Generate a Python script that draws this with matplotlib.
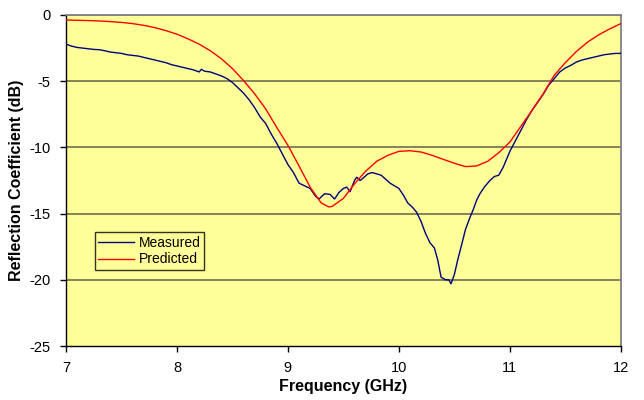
import matplotlib
matplotlib.use("Agg")
import matplotlib.pyplot as plt

plt.rcParams['font.family'] = ['Liberation Sans', 'DejaVu Sans']
plt.rcParams['axes.unicode_minus'] = False

# Measured reflection coefficient (dB)
meas_f = [7.00, 7.05, 7.10, 7.15, 7.20, 7.25, 7.30, 7.35, 7.40, 7.45, 7.50, 7.55, 7.60, 7.65,
          7.70, 7.75, 7.80, 7.85, 7.90, 7.95, 8.00, 8.05, 8.10, 8.15, 8.20, 8.22, 8.25, 8.30,
          8.35, 8.40, 8.45, 8.50, 8.55, 8.60, 8.65, 8.70, 8.75, 8.80, 8.85, 8.90, 8.95, 9.00,
          9.05, 9.10, 9.15, 9.20, 9.25, 9.28, 9.33, 9.38, 9.42, 9.46, 9.50, 9.53, 9.56,
          9.60, 9.62, 9.65, 9.68, 9.72, 9.76, 9.80, 9.84, 9.88, 9.92, 9.96, 10.00, 10.04, 10.08,
          10.12, 10.16, 10.20, 10.24, 10.28, 10.32, 10.35, 10.38, 10.42, 10.45, 10.47, 10.50,
          10.53, 10.57, 10.60, 10.64, 10.67, 10.70, 10.73, 10.77, 10.82, 10.86, 10.90, 10.94,
          10.97, 11.00, 11.05, 11.10, 11.15, 11.20, 11.25, 11.30, 11.35, 11.40, 11.45, 11.50,
          11.55, 11.60, 11.65, 11.70, 11.75, 11.80, 11.85, 11.90, 11.95, 12.00]
meas_db = [-2.2, -2.35, -2.45, -2.5, -2.55, -2.6, -2.62, -2.7, -2.8, -2.85, -2.9, -3.0, -3.05, -3.1,
           -3.2, -3.3, -3.4, -3.5, -3.6, -3.75, -3.85, -3.95, -4.05, -4.15, -4.3, -4.1, -4.25, -4.3,
           -4.45, -4.6, -4.8, -5.1, -5.5, -5.9, -6.4, -7.0, -7.7, -8.2, -9.0, -9.7, -10.5, -11.3,
           -11.9, -12.7, -12.9, -13.1, -13.7, -13.9, -13.5, -13.55, -13.9, -13.4, -13.1, -13.0, -13.35,
           -12.5, -12.25, -12.5, -12.3, -12.0, -11.9, -12.0, -12.1, -12.4, -12.7, -12.9, -13.1, -13.6, -14.2,
           -14.5, -14.9, -15.6, -16.5, -17.2, -17.6, -18.5, -19.8, -20.0, -20.0, -20.3, -19.6,
           -18.5, -17.2, -16.2, -15.3, -14.7, -14.0, -13.5, -13.0, -12.5, -12.2, -12.1, -11.5,
           -10.9, -10.3, -9.5, -8.7, -7.9, -7.2, -6.6, -6.0, -5.3, -4.8, -4.3, -4.0,
           -3.8, -3.55, -3.4, -3.3, -3.2, -3.1, -3.0, -2.95, -2.9, -2.9]

# Predicted reflection coefficient (dB)
pred_f = [7.0, 7.1, 7.2, 7.3, 7.4, 7.5, 7.6, 7.7, 7.8, 7.9, 8.0, 8.1, 8.2, 8.3, 8.4, 8.5,
          8.6, 8.7, 8.8, 8.9, 9.0, 9.1, 9.2, 9.3, 9.37, 9.4, 9.5, 9.6, 9.7, 9.8, 9.9, 10.0,
          10.1, 10.2, 10.3, 10.4, 10.5, 10.6, 10.7, 10.8, 10.9, 11.0, 11.1, 11.2, 11.3, 11.4,
          11.5, 11.6, 11.7, 11.8, 11.9, 12.0]
pred_db = [-0.38, -0.40, -0.42, -0.45, -0.50, -0.56, -0.65, -0.78, -0.95, -1.18, -1.45, -1.80,
           -2.20, -2.70, -3.30, -4.05, -4.95, -5.95, -7.1, -8.5, -9.85, -11.4, -13.0, -14.2, -14.5,
           -14.45, -13.85, -12.75, -11.8, -11.05, -10.6, -10.3, -10.25, -10.35, -10.6, -10.9, -11.2,
           -11.45, -11.4, -11.05, -10.4, -9.6, -8.4, -7.2, -5.95, -4.55, -3.6, -2.75, -2.05,
           -1.5, -1.05, -0.65]

x_ticks = [7, 8, 9, 10, 11, 12]
y_ticks = [-25, -20, -15, -10, -5, 0]

fig = plt.figure(figsize=(6.44, 4.0), dpi=100)
ax = fig.add_axes([0.1025, 0.135, 0.8615, 0.8275])
ax.set_facecolor('#FFFF99')

for yv in [-20, -15, -10, -5, 0]:
    ax.axhline(yv, color='#7a7a55', linewidth=1.3, zorder=1)

ax.plot(meas_f, meas_db, color='#000080', linewidth=1.0, label='Measured', zorder=3)
ax.plot(pred_f, pred_db, color='#FF0000', linewidth=1.0, label='Predicted', zorder=3)

ax.set_xlim(7, 12)
ax.set_ylim(-25, 0)
ax.set_xticks(x_ticks)
ax.set_yticks(y_ticks)
ax.tick_params(direction='out', length=4, width=1, labelsize=10.5, pad=7)

for s in ['top', 'right']:
    ax.spines[s].set_color('#808080')
    ax.spines[s].set_linewidth(1.3)
for s in ['left', 'bottom']:
    ax.spines[s].set_color('black')
    ax.spines[s].set_linewidth(1.0)

ax.set_xlabel('Frequency (GHz)', fontsize=11.5, fontweight='bold', labelpad=3)
ax.set_ylabel('Reflection Coefficient (dB)', fontsize=11.5, fontweight='bold', labelpad=4)

leg = ax.legend(loc='upper left', bbox_to_anchor=(0.052, 0.344), fontsize=10,
                frameon=True, fancybox=False, borderpad=0.25, handlelength=2.6,
                handletextpad=0.3, labelspacing=0.2, borderaxespad=0)
leg.get_frame().set_edgecolor('black')
leg.get_frame().set_facecolor('#FFFF99')
leg.get_frame().set_linewidth(1.0)

fig.savefig('out.png', dpi=100)
